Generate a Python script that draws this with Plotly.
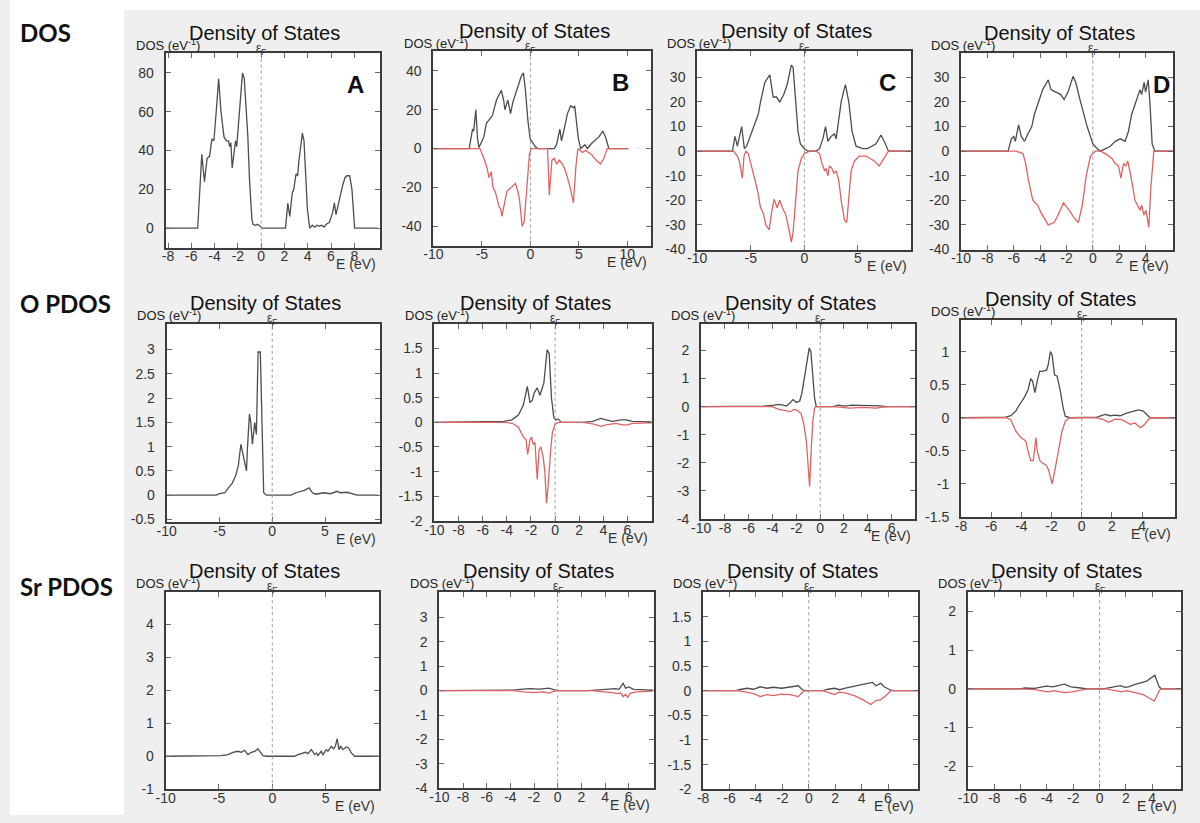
import plotly.graph_objects as go

W, H = 1200, 823

# ---------------- data (E in eV, DOS in states/eV) ----------------
# Row 1: total DOS
A_tot = [(-8.2, 0), (-5.45, 0), (-5.1, 38), (-4.87, 24), (-4.64, 36), (-4.43, 37), (-4.23, 46), (-4.06, 45),
         (-3.86, 60), (-3.65, 77), (-3.45, 60), (-3.19, 47), (-2.99, 45), (-2.8, 45), (-2.7, 42), (-2.6, 44),
         (-2.49, 31), (-2.3, 40), (-2.2, 45), (-2.1, 42), (-2.03, 47), (-1.8, 65), (-1.6, 80), (-1.45, 77),
         (-1.3, 65), (-1.15, 48), (-1.0, 25), (-0.8, 5), (-0.7, 2), (-0.5, 1.5), (-0.3, 2), (-0.1, 1), (0.1, 0),
         (2.09, 0), (2.29, 12.8), (2.46, 6), (2.67, 18), (2.8, 20), (3.0, 28), (3.13, 27), (3.25, 35), (3.54, 49),
         (3.68, 45), (3.97, 10), (4.17, 0), (4.4, 1.5), (4.6, 0.5), (4.8, 1.5), (5.0, 1), (5.2, 1.5), (5.4, 0.5),
         (5.6, 2), (5.86, 3), (6.14, 8), (6.29, 13), (6.43, 7), (6.67, 14), (6.87, 20), (7.0, 22), (7.2, 26),
         (7.36, 27), (7.6, 27), (7.8, 20), (8.03, 0), (10.0, 0)]

B_up = [(-10, 0), (-6.31, 0), (-5.97, 10), (-5.85, 9), (-5.63, 20), (-5.45, 5), (-5.3, 0.5), (-5.05, 3),
        (-4.8, 6), (-4.54, 13), (-4.2, 15), (-3.92, 17), (-3.5, 25), (-3.0, 30), (-2.76, 25), (-2.63, 20),
        (-2.32, 25), (-2.05, 18), (-1.8, 24), (-1.4, 30), (-1.2, 33), (-0.96, 37), (-0.72, 39), (-0.51, 30),
        (-0.27, 15), (-0.03, 5), (0.24, 3), (0.5, 1), (0.75, 0), (2.46, 0), (2.7, 2), (3.04, 10), (3.2, 4),
        (3.4, 8), (3.82, 18), (4.16, 22), (4.44, 21), (4.57, 22), (4.95, 5), (5.19, 0), (5.63, 2), (5.87, 0),
        (6.38, 3), (7.07, 6), (7.47, 9), (7.75, 6), (8.09, 0), (10.1, 0)]
B_dn = [(-10, 0), (-5.2, 0), (-4.8, -5), (-4.47, -10), (-4.27, -15), (-4.03, -12), (-3.86, -20), (-3.58, -23),
        (-3.24, -30), (-3.07, -31), (-2.94, -35), (-2.66, -28), (-2.42, -22), (-1.98, -20), (-1.54, -18),
        (-1.3, -22), (-1.13, -26), (-0.85, -40), (-0.65, -38), (-0.44, -25), (-0.27, -12), (-0.1, -3), (0.07, 0),
        (1.77, 0), (1.95, -24), (2.22, -6), (2.46, -5), (2.7, -8), (2.97, -6), (3.31, -8), (3.65, -12),
        (4.1, -20), (4.44, -28), (4.68, -10), (4.9, 0), (5.36, -2), (5.7, -1), (6.3, -3), (6.78, -6),
        (7.24, -8), (7.58, -5), (7.92, 0), (10.1, 0)]

C_up = [(-10, 0), (-6.72, 0), (-6.47, 6), (-6.25, 2), (-5.85, 10), (-5.6, 1), (-5.39, 2), (-5.14, 5),
        (-4.77, 10), (-4.3, 15), (-4.09, 20), (-3.68, 28), (-3.22, 31), (-2.91, 22), (-2.6, 22), (-2.29, 20),
        (-1.92, 23), (-1.61, 27), (-1.21, 35), (-1.05, 34), (-0.8, 20), (-0.59, 8), (-0.37, 3), (0, 1),
        (0.34, 0), (1.1, 0), (1.42, 1), (1.73, 5), (1.98, 10), (2.2, 4), (2.5, 6), (2.82, 7), (2.97, 5),
        (3.28, 15), (3.44, 20), (3.65, 24), (3.84, 27), (4.15, 20), (4.46, 8), (4.83, 2), (5.45, 1), (5.91, 1),
        (6.69, 3), (7.15, 6.5), (7.46, 4), (7.86, 0), (10, 0)]
C_dn = [(-10, 0), (-6.6, 0), (-6.25, -2), (-6.07, -4), (-5.79, -11), (-5.63, -2), (-5.45, 0), (-5.23, -1),
        (-5.0, -5), (-4.61, -12), (-4.37, -16), (-4.09, -23), (-3.84, -25), (-3.59, -30), (-3.28, -32),
        (-3.06, -25), (-2.82, -19.5), (-2.54, -23), (-2.29, -20), (-2.04, -23), (-1.73, -26), (-1.52, -30),
        (-1.21, -37), (-1.05, -33), (-0.8, -20), (-0.59, -8), (-0.28, -3), (0, -1), (0.5, 0), (1.1, 0),
        (1.42, -1), (1.64, -5), (1.89, -8), (2.04, -7), (2.2, -10), (2.35, -6), (2.57, -7), (2.76, -9),
        (2.97, -8), (3.22, -12), (3.44, -20), (3.75, -28), (3.96, -29), (4.15, -20), (4.37, -8), (4.67, -4),
        (5.14, -2), (5.76, -2), (6.53, -4), (7.0, -6), (7.31, -4), (7.86, 0), (10, 0)]

D_up = [(-10, 0), (-6.43, 0), (-6.18, 5), (-6.0, 6), (-5.88, 4), (-5.63, 10.7), (-5.43, 6), (-5.18, 4),
        (-4.93, 7), (-4.63, 10), (-4.43, 15), (-4.13, 20), (-3.8, 25), (-3.38, 29), (-3.18, 25), (-2.8, 24),
        (-2.43, 23), (-2.18, 21), (-1.88, 24), (-1.5, 30.4), (-1.3, 28), (-0.93, 20), (-0.43, 10), (0, 3),
        (0.33, 1), (0.58, 0), (0.95, 1), (1.33, 2), (1.7, 4), (2.08, 5), (2.45, 4), (2.7, 8), (2.95, 15),
        (3.28, 20), (3.58, 25), (3.7, 23), (3.9, 28), (4.0, 24), (4.2, 29), (4.33, 20), (4.5, 3), (4.7, 0),
        (6.1, 0)]
D_dn = [(-10, 0), (-5.8, 0), (-5.3, -1), (-5.1, -5), (-4.88, -12), (-4.55, -20), (-4.18, -22), (-3.93, -25),
        (-3.38, -30), (-2.93, -29), (-2.55, -25), (-2.23, -21), (-1.8, -24), (-1.43, -27), (-1.1, -29),
        (-0.8, -22), (-0.5, -10), (-0.18, -2), (0.2, 0), (0.58, 0), (0.95, -1), (1.45, -3), (1.7, -5),
        (1.95, -6), (2.13, -11), (2.33, -5), (2.5, -6), (2.65, -4), (2.88, -10), (3.2, -20), (3.58, -24),
        (3.7, -22), (3.88, -26), (4.03, -24), (4.25, -31), (4.4, -15), (4.63, 0), (6.1, 0)]

# Row 2: O PDOS
E_tot = [(-10, 0), (-5.3, 0), (-5.0, 0.03), (-4.47, 0.05), (-4.16, 0.15), (-3.78, 0.25), (-3.47, 0.4),
         (-3.22, 0.6), (-2.97, 1.05), (-2.66, 0.7), (-2.44, 0.5), (-2.34, 1.0), (-2.16, 1.67), (-2.03, 1.5),
         (-1.88, 1.05), (-1.66, 1.5), (-1.5, 1.25), (-1.34, 2.95), (-1.13, 2.95), (-0.97, 1.5), (-0.81, 0.05),
         (-0.56, 0), (1.78, 0), (2.25, 0.05), (3.03, 0.1), (3.5, 0.15), (3.81, 0.05), (4.13, 0.02), (4.9, 0.05),
         (5.5, 0.03), (6.16, 0.08), (6.47, 0.05), (7.1, 0.06), (7.72, 0.02), (8.03, 0), (10, 0)]

F_up = [(-10, 0), (-4.27, 0.02), (-3.59, 0.05), (-3.04, 0.15), (-2.63, 0.35), (-2.3, 0.73), (-2.08, 0.4),
        (-1.89, 0.45), (-1.73, 0.6), (-1.48, 0.7), (-1.26, 0.55), (-1.12, 0.65), (-0.93, 0.8), (-0.66, 1.47),
        (-0.49, 1.4), (-0.3, 0.5), (-0.11, 0.1), (0.05, 0.05), (0.25, 0.07), (0.52, 0), (2.3, 0), (3.12, 0.02),
        (3.8, 0.08), (4.22, 0.05), (4.77, 0.02), (5.45, 0.05), (5.86, 0.05), (6.41, 0.02), (6.96, 0.02),
        (8, 0.01)]
F_dn = [(-10, 0), (-4.0, 0), (-3.45, -0.03), (-3.04, -0.1), (-2.63, -0.3), (-2.41, -0.35), (-2.27, -0.65),
        (-2.08, -0.35), (-1.95, -0.3), (-1.81, -0.45), (-1.67, -0.4), (-1.48, -1.16), (-1.32, -0.55),
        (-1.18, -0.5), (-0.99, -0.7), (-0.85, -1.0), (-0.71, -1.64), (-0.58, -1.3), (-0.38, -0.6),
        (-0.22, -0.2), (-0.03, -0.05), (0.25, 0), (2.3, 0), (3.12, -0.03), (3.8, -0.08), (4.22, -0.05),
        (5.04, -0.02), (5.59, -0.05), (6.0, -0.05), (6.41, -0.02), (8, -0.01)]

G_up = [(-10, 0), (-5, 0), (-4.72, 0.02), (-3.89, 0.05), (-3.47, 0.08), (-3.11, 0.05), (-2.83, 0.02),
        (-2.5, 0.15), (-2.28, 0.25), (-2.0, 0.15), (-1.72, 0.2), (-1.53, 0.5), (-1.33, 1.0), (-1.11, 1.6),
        (-0.92, 2.09), (-0.78, 1.95), (-0.61, 1.0), (-0.47, 0.3), (-0.33, 0), (1.1, 0), (1.53, 0.05),
        (2.08, 0.02), (2.64, 0.05), (3.33, 0.05), (3.89, 0.03), (4.44, 0.05), (5.0, 0.03), (5.56, 0), (8, 0)]
G_dn = [(-10, 0), (-4, 0), (-3.75, -0.05), (-3.47, -0.1), (-2.5, -0.18), (-2.22, -0.1), (-1.94, -0.12),
        (-1.61, -0.25), (-1.39, -0.6), (-1.17, -1.2), (-1.03, -2.0), (-0.89, -2.85), (-0.75, -1.5),
        (-0.61, -0.5), (-0.47, -0.05), (-0.33, 0), (1.1, 0), (1.94, -0.02), (2.5, -0.05), (3.61, -0.03),
        (4.72, -0.05), (5.28, -0.02), (5.83, 0), (8, 0)]

H_up = [(-8, 0), (-5.2, 0), (-5.03, 0.01), (-4.7, 0.03), (-4.37, 0.1), (-4.11, 0.2), (-3.82, 0.3),
        (-3.56, 0.42), (-3.38, 0.59), (-3.25, 0.55), (-3.1, 0.38), (-2.95, 0.55), (-2.79, 0.7), (-2.62, 0.7),
        (-2.33, 0.72), (-2.22, 0.8), (-2.07, 1.0), (-1.96, 0.95), (-1.8, 0.65), (-1.63, 0.63), (-1.41, 0.4),
        (-1.23, 0.15), (-1.08, 0.02), (-0.75, 0), (0.79, 0), (1.01, 0.01), (1.56, 0.05), (1.89, 0.03),
        (2.22, 0.04), (2.55, 0.03), (2.99, 0.07), (3.32, 0.09), (3.76, 0.12), (4.09, 0.1), (4.31, 0.05),
        (4.53, 0), (6.2, 0)]
H_dn = [(-8, 0), (-5.0, 0), (-4.7, -0.03), (-4.37, -0.2), (-4.04, -0.3), (-3.71, -0.35), (-3.56, -0.5),
        (-3.38, -0.65), (-3.21, -0.65), (-3.1, -0.45), (-3.03, -0.3), (-2.95, -0.5), (-2.77, -0.65),
        (-2.62, -0.68), (-2.33, -0.72), (-2.18, -0.8), (-1.96, -1.0), (-1.78, -0.8), (-1.52, -0.5),
        (-1.3, -0.2), (-1.08, -0.05), (-0.8, 0), (0.9, 0), (1.45, -0.03), (1.78, -0.07), (2.22, -0.02),
        (2.66, -0.03), (3.21, -0.1), (3.54, -0.08), (3.87, -0.15), (4.09, -0.12), (4.35, -0.05), (4.53, 0),
        (6.2, 0)]

# Row 3: Sr PDOS
I_tot = [(-10, 0), (-5, 0), (-4.78, 0.02), (-4.16, 0.05), (-3.69, 0.12), (-3.22, 0.15), (-2.91, 0.12),
         (-2.59, 0.18), (-2.28, 0.05), (-1.97, 0.12), (-1.66, 0.15), (-1.34, 0.22), (-1.13, 0.12),
         (-0.88, 0.02), (-0.56, 0), (2.09, 0), (2.41, 0.05), (2.72, 0.08), (3.13, 0.12), (3.34, 0.08),
         (3.66, 0.2), (3.97, 0.05), (4.13, 0.1), (4.28, 0.02), (4.59, 0.15), (4.75, 0.05), (5.06, 0.2),
         (5.22, 0.15), (5.53, 0.3), (5.75, 0.22), (5.91, 0.3), (6.09, 0.53), (6.25, 0.2), (6.41, 0.3),
         (6.63, 0.2), (6.94, 0.28), (7.16, 0.25), (7.41, 0.1), (7.72, 0), (10, 0)]

J_up = [(-10, 0), (-4, 0), (-3.73, 0.02), (-3.18, 0.05), (-2.36, 0.08), (-1.53, 0.06), (-0.71, 0.1),
        (-0.3, 0.03), (0.1, 0), (2.58, 0), (3.4, 0.02), (4.22, 0.06), (4.9, 0.08), (5.18, 0.05), (5.53, 0.3),
        (5.73, 0.1), (6.0, 0.15), (6.41, 0.05), (7.23, 0.03), (8, 0.02)]
J_dn = [(-10, 0), (-3.7, 0), (-2.9, -0.05), (-2.08, -0.08), (-1.26, -0.05), (-0.71, -0.1), (-0.3, -0.02),
        (0, 0), (2.8, 0), (3.67, -0.03), (4.63, -0.08), (5.04, -0.12), (5.32, -0.1), (5.53, -0.25),
        (5.73, -0.15), (5.92, -0.28), (6.14, -0.1), (6.68, -0.05), (8, -0.02)]

K_up = [(-8, 0), (-5.5, 0), (-5.3, 0.02), (-4.68, 0.05), (-4.18, 0.03), (-3.68, 0.08), (-3.18, 0.05),
        (-2.68, 0.07), (-2.06, 0.05), (-1.43, 0.08), (-0.8, 0.1), (-0.48, 0.02), (-0.3, 0), (1.08, 0),
        (1.45, 0.03), (1.95, 0.05), (2.33, 0.02), (2.7, 0.05), (3.45, 0.1), (4.08, 0.13), (4.83, 0.17),
        (5.08, 0.1), (5.45, 0.15), (5.7, 0.08), (6.08, 0.03), (6.33, 0), (8.3, 0)]
K_dn = [(-8, 0), (-5.5, 0), (-4.93, -0.02), (-4.18, -0.06), (-3.68, -0.12), (-3.18, -0.08), (-2.68, -0.1),
        (-2.06, -0.07), (-1.43, -0.08), (-0.8, -0.12), (-0.48, -0.03), (-0.3, 0), (1.08, 0), (1.58, -0.05),
        (1.95, -0.08), (2.33, -0.03), (2.83, -0.05), (3.45, -0.1), (4.08, -0.18), (4.7, -0.28), (5.08, -0.2),
        (5.45, -0.18), (5.83, -0.1), (6.2, 0), (8.3, 0)]

L_up = [(-10, 0), (-6, 0), (-5.68, 0.02), (-4.93, 0.01), (-4.05, 0.07), (-3.55, 0.05), (-2.68, 0.12),
        (-2.18, 0.05), (-1.43, 0.02), (-0.93, 0), (0.3, 0), (0.58, 0.02), (1.08, 0.05), (1.58, 0.08),
        (1.95, 0.04), (2.2, 0.05), (2.58, 0.1), (3.08, 0.15), (3.58, 0.2), (4.2, 0.35), (4.33, 0.25),
        (4.53, 0.05), (4.7, 0), (6.2, 0)]
L_dn = [(-10, 0), (-6, 0), (-4.93, -0.02), (-3.93, -0.08), (-3.43, -0.05), (-2.68, -0.1), (-2.05, -0.08),
        (-1.43, -0.03), (-0.93, 0), (0.5, 0), (1.08, -0.03), (1.7, -0.08), (2.08, -0.05), (2.83, -0.12),
        (3.33, -0.15), (3.83, -0.25), (4.15, -0.32), (4.33, -0.2), (4.53, -0.05), (4.7, 0), (6.2, 0)]

# tick values per panel
A_xt = [-8, -6, -4, -2, 0, 2, 4, 6, 8];    A_yt = [0, 20, 40, 60, 80]
B_xt = [-10, -5, 0, 5, 10];                B_yt = [-40, -20, 0, 20, 40]
C_xt = [-10, -5, 0, 5];                    C_yt = [-40, -30, -20, -10, 0, 10, 20, 30]
D_xt = [-10, -8, -6, -4, -2, 0, 2, 4];     D_yt = [-40, -30, -20, -10, 0, 10, 20, 30]
E_xt = [-10, -5, 0, 5];                    E_yt = [-0.5, 0, 0.5, 1, 1.5, 2, 2.5, 3]
F_xt = [-10, -8, -6, -4, -2, 0, 2, 4, 6];  F_yt = [-2, -1.5, -1, -0.5, 0, 0.5, 1, 1.5]
G_xt = [-10, -8, -6, -4, -2, 0, 2, 4, 6];  G_yt = [-4, -3, -2, -1, 0, 1, 2]
H_xt = [-8, -6, -4, -2, 0, 2, 4];          H_yt = [-1.5, -1, -0.5, 0, 0.5, 1]
I_xt = [-10, -5, 0, 5];                    I_yt = [-1, 0, 1, 2, 3, 4]
J_xt = [-10, -8, -6, -4, -2, 0, 2, 4, 6];  J_yt = [-4, -3, -2, -1, 0, 1, 2, 3]
K_xt = [-8, -6, -4, -2, 0, 2, 4, 6];       K_yt = [-2, -1.5, -1, -0.5, 0, 0.5, 1, 1.5]
L_xt = [-10, -8, -6, -4, -2, 0, 2, 4];     L_yt = [-2, -1, 0, 1, 2]

row_labels = ["DOS", "O PDOS", "Sr PDOS"]
panel_letters = ["A", "B", "C", "D"]

# ---------------- layout config (pixel boxes: left, right, top, bottom) ----------------
panels = [
    dict(box=(157, 373, 54, 250), xr=[-8.2, 10.2], yr=[-10, 90], xt=A_xt, yt=A_yt, up=A_tot, dn=None),
    dict(box=(427, 646, 52, 248), xr=[-10, 12.4], yr=[-50, 50], xt=B_xt, yt=B_yt, up=B_up, dn=B_dn),
    dict(box=(693, 909, 52, 252), xr=[-10, 10], yr=[-40, 40.5], xt=C_xt, yt=C_yt, up=C_up, dn=C_dn),
    dict(box=(959, 1173, 54, 252), xr=[-10, 6.1], yr=[-40, 39.7], xt=D_xt, yt=D_yt, up=D_up, dn=D_dn),
    dict(box=(158, 373, 327, 527), xr=[-10, 10.2], yr=[-0.55, 3.53], xt=E_xt, yt=E_yt, up=E_tot, dn=None),
    dict(box=(428, 647, 327, 526), xr=[-10, 8], yr=[-2, 2], xt=F_xt, yt=F_yt, up=F_up, dn=F_dn),
    dict(box=(697, 913, 327, 524), xr=[-10, 8], yr=[-4, 2.95], xt=G_xt, yt=G_yt, up=G_up, dn=G_dn),
    dict(box=(959, 1175, 323, 522), xr=[-8, 6.2], yr=[-1.5, 1.48], xt=H_xt, yt=H_yt, up=H_up, dn=H_dn),
    dict(box=(157, 372, 598, 797), xr=[-10, 10], yr=[-1, 4.97], xt=I_xt, yt=I_yt, up=I_tot, dn=None),
    dict(box=(433, 649, 598, 796), xr=[-10, 8.1], yr=[-4, 4.03], xt=J_xt, yt=J_yt, up=J_up, dn=J_dn),
    dict(box=(699, 916, 598, 797), xr=[-8, 8.3], yr=[-2, 2], xt=K_xt, yt=K_yt, up=K_up, dn=K_dn),
    dict(box=(966, 1181, 598, 797), xr=[-10, 6.2], yr=[-2.6, 2.5], xt=L_xt, yt=L_yt, up=L_up, dn=L_dn),
]
letter_pos = [(348, 85), (616, 83), (885, 83), (1161, 85)]
row_label_pos = [(8, 33), (8, 306), (8, 592)]

FONT = "Liberation Sans, Arial, sans-serif"
UP_COL = "#4d4d4d"
DN_COL = "#e06262"


def pxx(x):
    return x / W


def pyy(y):
    return 1 - y / H


def fmt(v):
    return f"{v:g}"


fig = go.Figure()
shapes = []
annotations = []
layout = {}

# white area outside the grey screenshot region
shapes.append(dict(type="rect", xref="paper", yref="paper", x0=0, x1=pxx(115), y0=0, y1=1,
                   fillcolor="white", line=dict(width=0), layer="below"))
shapes.append(dict(type="rect", xref="paper", yref="paper", x0=0, x1=1, y0=pyy(10), y1=1,
                   fillcolor="white", line=dict(width=0), layer="below"))

axis_common = dict(showline=True, linecolor="#3c3c3c", linewidth=2, mirror="allticks",
                   ticks="inside", ticklen=5, tickwidth=1, tickcolor="#6a6a6a",
                   showgrid=False, zeroline=False, fixedrange=True,
                   tickfont=dict(family=FONT, size=14, color="#333333"))

for i, p in enumerate(panels):
    n = i + 1
    sx = "" if n == 1 else str(n)
    xa, ya = "x" + sx, "y" + sx
    l, r, t, b = p["box"]
    layout["xaxis" + sx] = dict(axis_common, domain=[pxx(l), pxx(r)], range=p["xr"], anchor=ya,
                                tickmode="array", tickvals=p["xt"], ticktext=[fmt(v) for v in p["xt"]],
                                ticklabelstandoff=-5)
    layout["yaxis" + sx] = dict(axis_common, domain=[pyy(b), pyy(t)], range=p["yr"], anchor=xa,
                                tickmode="array", tickvals=p["yt"], ticktext=[fmt(v) for v in p["yt"]],
                                ticklabelstandoff=7)

    ux, uy = zip(*p["up"])
    fig.add_trace(go.Scatter(x=list(ux), y=list(uy), mode="lines", xaxis=xa, yaxis=ya,
                             line=dict(color=UP_COL, width=1.3), hoverinfo="skip", showlegend=False))
    if p["dn"] is not None:
        dx, dy = zip(*p["dn"])
        fig.add_trace(go.Scatter(x=list(dx), y=list(dy), mode="lines", xaxis=xa, yaxis=ya,
                                 line=dict(color=DN_COL, width=1.3), hoverinfo="skip", showlegend=False))

    # Fermi level dotted line
    shapes.append(dict(type="line", xref=xa, yref=ya + " domain", x0=0, x1=0, y0=0, y1=1,
                       line=dict(color="#9a9a9a", width=1, dash="dot"), layer="above"))

    # texts
    x_zero = l + (0 - p["xr"][0]) / (p["xr"][1] - p["xr"][0]) * (r - l)
    annotations.append(dict(text="Density of States", xref="paper", yref="paper",
                            x=pxx((l + r) / 2 - 8), y=pyy(t - 21), xanchor="center", yanchor="middle",
                            showarrow=False, font=dict(family=FONT, size=20, color="#111111")))
    annotations.append(dict(text="DOS (eV<sup>-1</sup>)", xref="paper", yref="paper",
                            x=pxx(l - 32), y=pyy(t - 9), xanchor="left", yanchor="middle",
                            showarrow=False, font=dict(family=FONT, size=13, color="#222222")))
    annotations.append(dict(text="ε<sub>F</sub>", xref="paper", yref="paper",
                            x=pxx(x_zero), y=pyy(t - 5), xanchor="center", yanchor="middle",
                            showarrow=False, font=dict(family=FONT, size=12, color="#333333")))
    annotations.append(dict(text="E (eV)", xref="paper", yref="paper",
                            x=pxx(r - 2), y=pyy(b + 17), xanchor="right", yanchor="middle",
                            showarrow=False, font=dict(family=FONT, size=14, color="#333333")))

for letter, (lx, ly) in zip(panel_letters, letter_pos):
    annotations.append(dict(text=f"<b>{letter}</b>", xref="paper", yref="paper", x=pxx(lx), y=pyy(ly),
                            xanchor="center", yanchor="middle", showarrow=False,
                            font=dict(family=FONT, size=24, color="#111111")))

for lab, (lx, ly) in zip(row_labels, row_label_pos):
    annotations.append(dict(text=f"<b>{lab}</b>", xref="paper", yref="paper", x=pxx(lx), y=pyy(ly),
                            xanchor="left", yanchor="middle", showarrow=False,
                            font=dict(family="Lato, Open Sans, sans-serif", size=24, color="#111111")))

fig.update_layout(width=W, height=H, autosize=False, margin=dict(l=0, r=0, t=0, b=0),
                  paper_bgcolor="#efefef", plot_bgcolor="white", showlegend=False,
                  shapes=shapes, annotations=annotations, **layout)

fig.write_html("out.html", config={"displayModeBar": False},
               post_script="document.body.style.margin='0';document.body.style.overflow='hidden';")
